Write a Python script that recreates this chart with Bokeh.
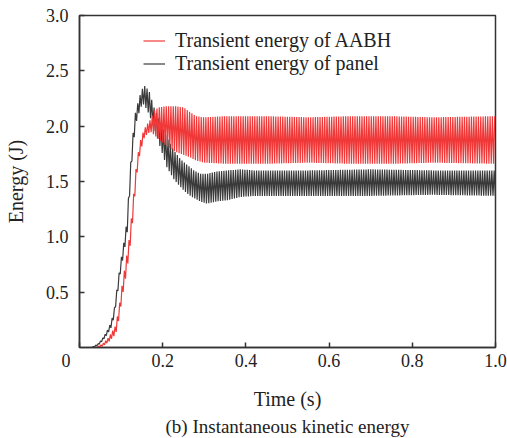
import numpy as np
from bokeh.plotting import figure
from bokeh.models import (Range1d, FixedTicker, PrintfTickFormatter, Legend,
                          LegendItem, Title)
from bokeh.embed import file_html
from bokeh.resources import INLINE

FONT = "Liberation Serif"
RED = "#f03838"
DARK = "#3a3a3a"
TEXT = "#222222"

# Transient energy of the AABH: upper / lower envelope of the ripple (J)
aabh_t = [0.000, 0.040, 0.055, 0.070, 0.087, 0.095, 0.103, 0.111, 0.119,
          0.125, 0.131, 0.137, 0.145, 0.155, 0.163, 0.171, 0.180, 0.190,
          0.210, 0.230, 0.250, 0.265, 0.280, 0.300, 0.350, 0.450, 0.550,
          0.650, 0.750, 0.850, 1.000]
aabh_upper = [0.00, 0.00, 0.03, 0.09, 0.20, 0.36, 0.58, 0.77, 0.97,
              1.18, 1.42, 1.66, 1.85, 1.97, 2.02, 2.06, 2.14, 2.17,
              2.18, 2.18, 2.17, 2.13, 2.09, 2.08, 2.09, 2.09, 2.08,
              2.09, 2.09, 2.08, 2.09]
aabh_lower = [0.00, 0.00, 0.01, 0.05, 0.12, 0.26, 0.46, 0.63, 0.83,
              1.02, 1.28, 1.54, 1.75, 1.89, 1.93, 1.95, 1.92, 1.88,
              1.82, 1.77, 1.74, 1.72, 1.69, 1.67, 1.66, 1.66, 1.67,
              1.66, 1.66, 1.67, 1.66]

# Transient energy of the panel: upper / lower envelope of the ripple (J)
panel_t = [0.000, 0.030, 0.045, 0.055, 0.065, 0.075, 0.083, 0.090, 0.0986,
           0.1066, 0.1146, 0.120, 0.127, 0.135, 0.147, 0.155, 0.167, 0.179,
           0.195, 0.210, 0.227, 0.243, 0.259, 0.275, 0.290, 0.307, 0.330,
           0.355, 0.387, 0.420, 0.550, 0.700, 0.850, 1.000]
panel_upper = [0.00, 0.00, 0.035, 0.08, 0.14, 0.22, 0.33, 0.53, 0.77,
               0.95, 1.16, 1.50, 1.88, 2.14, 2.30, 2.37, 2.32, 2.17,
               2.03, 1.90, 1.78, 1.70, 1.65, 1.60, 1.57, 1.57, 1.59,
               1.60, 1.61, 1.60, 1.60, 1.61, 1.60, 1.60]
panel_lower = [0.00, 0.00, 0.02, 0.06, 0.11, 0.17, 0.27, 0.45, 0.68,
               0.85, 1.03, 1.35, 1.74, 2.02, 2.17, 2.20, 2.11, 1.99,
               1.80, 1.63, 1.52, 1.45, 1.39, 1.35, 1.32, 1.30, 1.32,
               1.33, 1.36, 1.37, 1.37, 1.37, 1.38, 1.37]

ripple_period = 0.0056  # s

x_ticks = [0.0, 0.2, 0.4, 0.6, 0.8, 1.0]
y_ticks = [0.5, 1.0, 1.5, 2.0, 2.5, 3.0]


def ripple_trace(t_knots, upper, lower, start):
    """Alternate between the upper and lower envelope every half period."""
    half = ripple_period / 2.0
    t = np.arange(start, 1.0 + 1e-9, half)
    hi = np.interp(t, t_knots, upper)
    lo = np.interp(t, t_knots, lower)
    e = np.where(np.arange(len(t)) % 2 == 0, hi, lo)
    return t, e


p = figure(width=507, height=438, x_range=Range1d(0, 1), y_range=Range1d(0, 3),
           output_backend="svg", toolbar_location=None,
           min_border_left=79, min_border_right=12, min_border_top=15,
           min_border_bottom=90)

p.xgrid.visible = False
p.ygrid.visible = False
p.outline_line_color = "#333333"
p.outline_line_width = 1.5
p.outline_line_alpha = 1.0

for ax in (p.xaxis[0], p.yaxis[0]):
    ax.axis_line_color = "#333333"
    ax.axis_line_width = 1.5
    ax.major_tick_line_color = "#333333"
    ax.major_tick_line_width = 1.5
    ax.major_tick_in = 5
    ax.major_tick_out = 0
    ax.minor_tick_line_color = None
    ax.major_label_text_font = FONT
    ax.major_label_text_font_size = "18px"
    ax.major_label_text_color = TEXT
    ax.axis_label_text_font = FONT
    ax.axis_label_text_font_size = "20px"
    ax.axis_label_text_font_style = "normal"
    ax.axis_label_text_color = TEXT

p.xaxis[0].ticker = FixedTicker(ticks=x_ticks)
p.yaxis[0].ticker = FixedTicker(ticks=y_ticks)
p.xaxis[0].formatter = PrintfTickFormatter(format="%.1f")
p.yaxis[0].formatter = PrintfTickFormatter(format="%.1f")
# origin label sits to the lower left of the corner
p.xaxis[0].major_label_overrides = {0.0: "0\u2007\u2007\u2007"}
p.xaxis[0].axis_label = "Time (s)"
p.yaxis[0].axis_label = "Energy (J)"
p.xaxis[0].major_label_standoff = 3
p.xaxis[0].axis_label_standoff = 14
p.yaxis[0].major_label_standoff = 11
p.yaxis[0].axis_label_standoff = 16

tp, ep = ripple_trace(panel_t, panel_upper, panel_lower, 0.0)
ta, ea = ripple_trace(aabh_t, aabh_upper, aabh_lower, ripple_period / 4.0)

r_panel = p.line(tp, ep, line_color=DARK, line_width=1.2)
r_aabh = p.line(ta, ea, line_color=RED, line_width=1.2)

legend = Legend(items=[LegendItem(label="Transient energy of AABH", renderers=[r_aabh]),
                       LegendItem(label="Transient energy of panel", renderers=[r_panel])],
                location=(64, 272), padding=0, margin=0, spacing=0,
                glyph_width=22, glyph_height=21, label_height=21, label_standoff=10,
                border_line_color=None, background_fill_alpha=0.0,
                label_text_font=FONT, label_text_font_size="20px",
                label_text_color=TEXT)
p.add_layout(legend)

caption = Title(text="(b) Instantaneous kinetic energy", align="center",
                text_font=FONT, text_font_size="19px", text_font_style="normal",
                text_color=TEXT, standoff=3)
p.add_layout(caption, "below")

open("out.html", "w").write(file_html(p, INLINE))
